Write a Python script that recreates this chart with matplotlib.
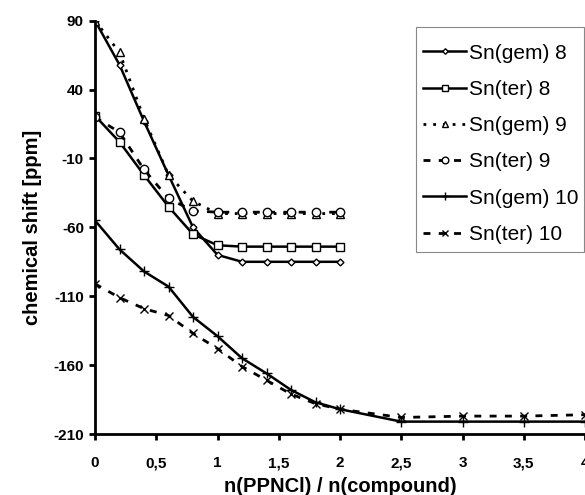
import matplotlib
matplotlib.use("Agg")
import matplotlib.pyplot as plt
from matplotlib.patches import Rectangle

plt.rcParams['font.family'] = ['Liberation Sans', 'DejaVu Sans']
plt.rcParams['axes.unicode_minus'] = False

# data
x_89 = [0, 0.2, 0.4, 0.6, 0.8, 1.0, 1.2, 1.4, 1.6, 1.8, 2.0]
x_10 = [0, 0.2, 0.4, 0.6, 0.8, 1.0, 1.2, 1.4, 1.6, 1.8, 2.0, 2.5, 3.0, 3.5, 4.0]

gem8 = [90, 58, 17, -22, -60, -80, -85, -85, -85, -85, -85]
ter8 = [21, 2, -22, -45, -65, -73, -74, -74, -74, -74, -74]
gem9 = [90, 67, 19, -22, -41, -50, -50, -50, -50, -50, -50]
ter9 = [20, 9, -18, -39, -48, -49, -49, -49, -49, -49, -49]
gem10 = [-55, -76, -92, -103, -125, -139, -155, -166, -178, -187, -192, -201, -201, -201, -201]
ter10 = [-101, -111, -119, -124, -137, -148, -161, -171, -181, -188, -192, -198, -197, -197, -196]

x_ticks = [0, 0.5, 1, 1.5, 2, 2.5, 3, 3.5, 4]
x_labels = ['0', '0,5', '1', '1,5', '2', '2,5', '3', '3,5', '4']
y_ticks = [-210, -160, -110, -60, -10, 40, 90]

fig = plt.figure(figsize=(5.85, 4.95), dpi=100)
ax = fig.add_axes([0.1624, 0.1232, 0.8376, 0.835])

ax.plot(x_89, gem8, '-', color='black', lw=1.8, marker='D', ms=3.5,
        mfc='white', mec='black', mew=1, label='Sn(gem) 8')
ax.plot(x_89, ter8, '-', color='black', lw=1.8, marker='s', ms=6,
        mfc='white', mec='black', mew=1, label='Sn(ter) 8')
ax.plot(x_89, gem9, color='black', lw=2, ls=(0, (1, 2.5)), marker='^', ms=6,
        mfc='white', mec='black', mew=1, label='Sn(gem) 9')
ax.plot(x_89, ter9, color='black', lw=2, ls=(0, (2.5, 3)), marker='o', ms=6,
        mfc='white', mec='black', mew=1, label='Sn(ter) 9')
ax.plot(x_10, gem10, '-', color='black', lw=1.8, marker='+', ms=7,
        mec='black', mew=1, label='Sn(gem) 10')
ax.plot(x_10, ter10, color='black', lw=2, ls=(0, (2.5, 3)), marker='x', ms=6,
        mec='black', mew=1, label='Sn(ter) 10')

ax.set_xlim(0, 4)
ax.set_ylim(-210, 90)
ax.set_xticks(x_ticks)
ax.set_xticklabels(x_labels)
ax.set_yticks(y_ticks)

for s in ['top', 'right']:
    ax.spines[s].set_visible(False)
for s in ['left', 'bottom']:
    ax.spines[s].set_linewidth(2)
ax.tick_params(axis='both', direction='out', length=4, width=2, labelsize=11)
ax.tick_params(axis='x', pad=12)
ax.tick_params(axis='y', pad=4)
for lab in ax.get_xticklabels() + ax.get_yticklabels():
    lab.set_fontweight('bold')

ax.set_xlabel('n(PPNCl) / n(compound)', fontsize=14.5, fontweight='bold', labelpad=5)
ax.set_ylabel('chemical shift [ppm]', fontsize=14.5, fontweight='bold', labelpad=8)

# legend box drawn separately so the padding can match the original
fig.patches.append(Rectangle((0.7111, 0.4915), 0.2872, 0.4545,
                             transform=fig.transFigure, fill=False,
                             edgecolor='#888888', lw=0.8))
leg = fig.legend(loc='upper left', bbox_to_anchor=(0.7225, 0.912),
                 borderaxespad=0, borderpad=0, fontsize=15, frameon=False,
                 handlelength=2.1, handletextpad=0.12, labelspacing=0.83,
                 markerscale=0.8)

fig.savefig('out.png', dpi=100)
